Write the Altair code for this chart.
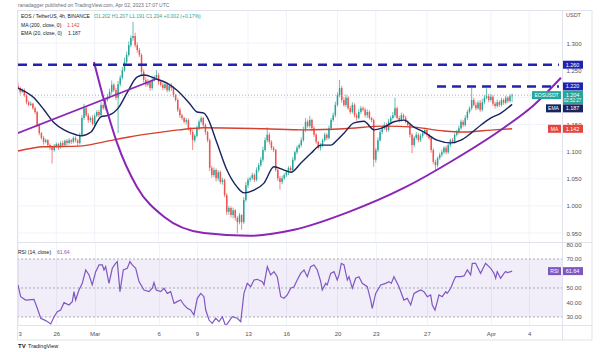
import altair as alt
import pandas as pd

# ---------------- data ----------------
# 4h candles, EOS/USDT, starting Feb 23 00:00 (t in days); prices in thousandths
close_k = [
    1217, 1210, 1213, 1204, 1191, 1186, 1188, 1180, 1173, 1149,
    1134, 1125, 1118, 1121, 1112, 1108, 1103, 1110, 1114, 1108,
    1116, 1112, 1120, 1116, 1121, 1118, 1125, 1121, 1116, 1131,
    1162, 1180, 1167, 1158, 1162, 1151, 1166, 1173, 1167, 1186,
    1180, 1195, 1201, 1210, 1223, 1213, 1199, 1224, 1236, 1250,
    1265, 1278, 1296, 1309, 1313, 1296, 1287, 1278, 1247, 1232,
    1223, 1228, 1217, 1232, 1236, 1241, 1228, 1223, 1217, 1224,
    1213, 1221, 1217, 1204, 1195, 1177, 1167, 1162, 1155, 1158,
    1143, 1136, 1121, 1129, 1143, 1155, 1162, 1149, 1136, 1121,
    1070, 1057, 1066, 1051, 1062, 1044, 1048, 1020, 989, 996,
    983, 992, 978, 970, 983, 970, 1011, 1038, 1048, 1051,
    1057, 1048, 1066, 1075, 1085, 1103, 1121, 1131, 1118, 1107,
    1103, 1066, 1051, 1044, 1051, 1057, 1062, 1070, 1066, 1085,
    1099, 1107, 1112, 1121, 1140, 1155, 1147, 1158, 1143, 1131,
    1118, 1107, 1112, 1121, 1131, 1125, 1143, 1158, 1167, 1186,
    1204, 1217, 1195, 1186, 1199, 1180, 1173, 1186, 1167, 1162,
    1173, 1180, 1177, 1167, 1173, 1162, 1158, 1085, 1103, 1121,
    1136, 1143, 1149, 1140, 1155, 1162, 1167, 1180, 1162, 1158,
    1167, 1162, 1155, 1149, 1131, 1112, 1125, 1131, 1121, 1129,
    1134, 1140, 1131, 1125, 1103, 1081, 1075, 1088, 1094, 1099,
    1107, 1099, 1112, 1121, 1118, 1131, 1136, 1143, 1155, 1149,
    1162, 1173, 1180, 1195, 1186, 1180, 1190, 1177, 1191, 1199,
    1202, 1195, 1201, 1188, 1184, 1191, 1186, 1195, 1190, 1199,
    1193, 1202, 1204,
]
first_open_k = 1221
wick_up_k = [
    6, 3, 4, 3, 2, 3, 4, 2, 3, 2,
    3, 2, 4, 3, 2, 3, 3, 4, 3, 2,
    3, 4, 2, 3, 4, 2, 3, 3, 2, 4,
    5, 8, 3, 4, 3, 5, 4, 3, 4, 5,
    3, 4, 5, 6, 8, 3, 4, 6, 5, 6,
    8, 6, 7, 5, 26, 6, 5, 4, 3, 4,
    5, 6, 3, 5, 4, 9, 4, 3, 4, 5,
    3, 4, 5, 3, 2, 3, 4, 3, 2, 4,
    3, 2, 4, 3, 5, 4, 3, 2, 3, 2,
    3, 4, 5, 3, 4, 3, 4, 2, 3, 4,
    3, 5, 2, 3, 4, 2, 5, 6, 4, 3,
    4, 3, 5, 4, 5, 6, 5, 14, 4, 3,
    3, 2, 3, 4, 5, 3, 4, 3, 4, 5,
    3, 4, 3, 5, 6, 7, 4, 8, 3, 4,
    3, 2, 4, 3, 4, 3, 5, 4, 5, 6,
    5, 15, 4, 5, 6, 3, 4, 5, 3, 4,
    5, 4, 3, 4, 5, 3, 2, 3, 4, 5,
    4, 3, 5, 4, 5, 4, 6, 19, 3, 4,
    5, 3, 4, 3, 2, 3, 4, 5, 3, 4,
    3, 4, 3, 2, 2, 3, 4, 3, 4, 5,
    3, 4, 5, 3, 4, 3, 4, 5, 4, 3,
    5, 4, 3, 22, 4, 5, 4, 5, 6, 5,
    15, 4, 5, 3, 4, 5, 3, 4, 3, 4,
    3, 4, 3,
]
wick_dn_k = [
    3, 4, 2, 3, 4, 3, 2, 3, 4, 3,
    4, 3, 5, 3, 4, 5, 25, 3, 4, 5,
    3, 4, 3, 5, 3, 4, 3, 4, 5, 3,
    3, 4, 3, 5, 4, 3, 4, 3, 4, 3,
    3, 4, 3, 4, 5, 3, 4, 65, 4, 3,
    3, 4, 3, 4, 5, 4, 5, 4, 6, 5,
    4, 3, 5, 4, 3, 4, 5, 3, 4, 3,
    4, 3, 5, 4, 3, 4, 5, 4, 3, 5,
    4, 5, 18, 4, 3, 4, 3, 4, 5, 4,
    6, 5, 4, 6, 5, 4, 5, 4, 6, 5,
    4, 6, 5, 20, 4, 14, 3, 4, 5, 4,
    3, 4, 3, 4, 3, 4, 3, 4, 5, 4,
    4, 3, 5, 14, 4, 3, 4, 5, 3, 4,
    3, 4, 3, 4, 3, 4, 3, 4, 5, 4,
    4, 3, 5, 4, 3, 4, 3, 4, 3, 4,
    3, 4, 5, 3, 4, 3, 4, 3, 4, 5,
    3, 4, 3, 4, 5, 3, 4, 13, 5, 4,
    3, 4, 3, 4, 3, 4, 3, 4, 3, 4,
    3, 4, 3, 4, 5, 15, 4, 3, 4, 3,
    4, 3, 4, 3, 5, 4, 9, 4, 3, 4,
    3, 4, 3, 4, 3, 4, 3, 4, 3, 4,
    3, 4, 3, 4, 3, 4, 3, 4, 3, 4,
    3, 4, 3, 4, 5, 3, 4, 3, 4, 3,
    4, 3, 11,
]

ema_t = [0.0, 1.25, 2.03, 2.82, 3.60, 4.54, 4.93, 5.71, 6.49, 7.12, 7.90, 8.53, 9.31,
         9.86, 10.80, 11.66, 12.44, 13.38, 14.01, 14.55, 14.79, 15.57, 16.35, 17.14,
         17.68, 18.47, 19.25, 20.03, 20.81, 21.36, 22.14, 22.93, 23.71, 24.49, 24.96,
         25.51, 26.29, 27.07, 27.86, 28.64, 29.42, 30.20, 30.99, 31.77, 32.79, 33.88,
         34.66, 35.45, 36.23, 37.01, 37.79, 38.667]
ema_v = [1.217, 1.199, 1.177, 1.153, 1.140, 1.131, 1.129, 1.136, 1.164, 1.167, 1.182,
         1.208, 1.237, 1.241, 1.234, 1.226, 1.213, 1.190, 1.173, 1.171, 1.164, 1.116,
         1.066, 1.035, 1.024, 1.029, 1.042, 1.072, 1.066, 1.062, 1.079, 1.097, 1.112,
         1.112, 1.121, 1.134, 1.153, 1.156, 1.140, 1.145, 1.155, 1.158, 1.145, 1.136,
         1.121, 1.116, 1.121, 1.134, 1.149, 1.162, 1.171, 1.187]

ma_t = [0.0, 2.03, 4.77, 6.73, 8.69, 10.64, 12.60, 14.55, 19.25, 22.38, 25.51, 28.64,
        30.99, 33.33, 34.90, 37.25, 38.667]
ma_v = [1.101, 1.109, 1.110, 1.118, 1.127, 1.134, 1.140, 1.144, 1.142, 1.140, 1.142,
        1.147, 1.145, 1.138, 1.136, 1.140, 1.142]

trend_t = [-0.08, 10.80]
trend_v = [1.1335, 1.2337]

cup_t = [5.95, 6.73, 7.75, 9.31, 11.42, 14.55, 18.08, 21.60, 25.90, 30.20, 34.12,
         38.03, 40.38, 42.49]
cup_v = [1.265, 1.195, 1.116, 1.035, 0.980, 0.950, 0.945, 0.956, 0.989, 1.033, 1.085,
         1.144, 1.186, 1.236]

level_values = [1.260, 1.220]
level_start_t = [0.0, 32.79]
level_end_t = [42.33, 42.33]

rsi_t = [0.00, 0.21, 0.60, 1.25, 1.51, 1.78, 2.17, 2.56, 2.82, 3.08,
         3.34, 3.60, 3.99, 4.25, 4.38, 4.51, 4.77, 5.03, 5.30, 5.56,
         5.81, 6.08, 6.34, 6.60, 6.73, 6.86, 7.12, 7.38, 7.64, 7.77,
         7.98, 8.24, 8.55, 8.76, 8.94, 9.21, 9.47, 9.86, 10.25, 10.51,
         10.64, 10.82, 11.17, 11.42, 11.68, 11.95, 12.21, 12.46, 12.73, 12.99,
         13.25, 13.51, 13.77, 14.03, 14.30, 14.55, 14.69, 14.95, 15.20, 15.47,
         15.73, 15.99, 16.25, 16.77, 17.16, 17.43, 17.68, 17.94, 18.21, 18.47,
         18.72, 19.12, 19.25, 19.51, 19.77, 20.03, 20.29, 20.56, 20.81, 21.07,
         21.34, 21.60, 21.85, 22.12, 22.38, 22.64, 22.90, 23.16, 23.42, 23.69,
         23.81, 24.08, 24.20, 24.47, 24.73, 24.98, 25.12, 25.30, 25.51, 25.77,
         25.90, 26.16, 26.42, 26.68, 26.94, 27.33, 27.60, 27.72, 27.99, 28.38,
         28.77, 29.03, 29.21, 29.42, 29.68, 29.81, 30.20, 30.46, 30.73, 30.99,
         31.24, 31.51, 31.77, 32.03, 32.29, 32.42, 32.63, 32.81, 32.94, 33.20,
         33.47, 33.59, 33.86, 34.12, 34.25, 34.64, 34.90, 35.16, 35.42, 35.55,
         35.81, 36.07, 36.20, 36.59, 36.99, 37.25, 37.38, 37.50, 37.77, 38.03,
         38.16, 38.29, 38.56, 38.667]
rsi_v = [52.1, 44.0, 41.7, 42.2, 36.0, 29.1, 27.5, 25.2, 30.2, 33.7,
         34.8, 39.9, 38.3, 40.6, 47.5, 41.7, 48.6, 53.2, 62.4, 59.0,
         52.1, 61.3, 65.9, 65.9, 62.4, 64.7, 53.2, 63.6, 67.0, 68.2,
         47.5, 62.4, 63.6, 68.2, 65.9, 63.6, 54.4, 48.6, 47.5, 49.8,
         53.7, 48.6, 47.5, 49.8, 46.3, 47.5, 39.4, 40.6, 41.7, 38.3,
         36.0, 34.8, 31.4, 42.9, 46.3, 44.0, 34.8, 27.9, 25.6, 29.1,
         26.8, 30.2, 23.8, 30.2, 29.1, 26.8, 46.3, 53.2, 50.9, 55.5,
         56.0, 54.4, 52.1, 64.7, 59.0, 61.3, 57.8, 44.0, 42.9, 45.2,
         49.8, 50.9, 55.5, 60.1, 62.4, 57.8, 64.7, 65.9, 62.4, 54.4,
         48.6, 53.2, 52.1, 60.1, 61.3, 55.5, 59.0, 67.0, 65.9, 55.5,
         57.8, 49.8, 56.7, 57.8, 53.2, 50.9, 41.7, 36.0, 46.3, 52.1,
         53.2, 54.4, 53.2, 57.8, 53.2, 50.9, 41.7, 42.9, 38.3, 46.3,
         47.5, 48.6, 47.5, 44.0, 45.2, 38.3, 34.8, 40.6, 45.2, 44.0,
         47.5, 46.3, 49.8, 55.5, 57.8, 57.8, 58.3, 62.4, 59.0, 67.0,
         67.0, 62.4, 60.1, 67.0, 63.6, 60.1, 56.7, 61.3, 56.7, 60.1,
         61.3, 60.6, 61.3, 61.64]

last_price = [1.204]
ema_last = [1.187]
ma_last = [1.142]
rsi_last = [61.64]
rsi_band = [30, 70]
rsi_levels = [70, 50, 30]

tick_days = [0, 3, 6, 11, 14, 18, 21, 25, 28, 32, 37, 40]
tick_labels = ["3", "26", "Mar", "6", "9", "13", "16", "20", "23", "27", "Apr", "4"]
# 1.200 and 60.00 sit hidden under the value boxes in the reference
price_ticks = [0.95, 1.00, 1.05, 1.10, 1.15, 1.25, 1.30]
price_grid = [0.95, 1.00, 1.05, 1.10, 1.15, 1.20, 1.25, 1.30]
rsi_ticks = [30, 40, 50, 70, 80]

assert len(close_k) == len(wick_up_k) == len(wick_dn_k)
assert len(ema_t) == len(ema_v) and len(rsi_t) == len(rsi_v)

# ---------------- tables ----------------
open_k = [first_open_k] + close_k[:-1]
candles = pd.DataFrame({
    "t": [i / 6 for i in range(len(close_k))],
    "open": [v / 1000 for v in open_k],
    "close": [v / 1000 for v in close_k],
    "high": [(max(o, c) + w) / 1000 for o, c, w in zip(open_k, close_k, wick_up_k)],
    "low": [(min(o, c) - w) / 1000 for o, c, w in zip(open_k, close_k, wick_dn_k)],
    "dir": ["up" if c >= o else "down" for o, c in zip(open_k, close_k)],
})
ema_df = pd.DataFrame({"t": ema_t, "v": ema_v})
ma_df = pd.DataFrame({"t": ma_t, "v": ma_v})
trend_df = pd.DataFrame({"t": trend_t, "v": trend_v})
cup_df = pd.DataFrame({"t": cup_t, "v": cup_v})
lvl_rows = []
for k, (v, a, b) in enumerate(zip(level_values, level_start_t, level_end_t)):
    lvl_rows += [{"t": a, "v": v, "g": k}, {"t": b, "v": v, "g": k}]
lvl_df = pd.DataFrame(lvl_rows)
rsi_df = pd.DataFrame({"t": rsi_t, "v": rsi_v})
ticks_df = pd.DataFrame({"t": tick_days})
pgrid_df = pd.DataFrame({"v": price_grid})

# ---------------- styling ----------------
FONT = "Liberation Sans"
TXT = "#131722"
AXC = "#50535e"
GRID = "#f0f3fa"
FRAME = "#e0e3eb"
GREEN = "#26a69a"
RED = "#ef5350"
MA_LINE = "#d6402f"
MA_BOX = "#e5453b"
EMA_C = "#17245f"
LEVEL_C = "#2222b0"
PURPLE = "#8c25b5"
RSI_C = "#7e57c2"

W, HP, HR = 545, 242, 83
xs = alt.Scale(domain=[-0.078, 42.57], nice=False, zero=False)
ys = alt.Scale(domain=[0.9335, 1.3792], nice=False, zero=False)
rs = alt.Scale(domain=[24.48, 81.72], nice=False, zero=False)

price_axis = alt.Axis(orient="right", values=price_ticks, format=".3f", title=None,
                      ticks=False, tickSize=0, domain=False, grid=False, zindex=0,
                      labelFontSize=6, labelFont=FONT, labelColor=AXC, labelPadding=4,
                      labelOverlap=False)
rsi_axis = alt.Axis(orient="right", values=rsi_ticks, format=".2f", title=None,
                    ticks=False, tickSize=0, domain=False, grid=False, zindex=0,
                    labelFontSize=6, labelFont=FONT, labelColor=AXC, labelPadding=4,
                    labelOverlap=False)
label_expr = "".join(f"datum.value == {d} ? '{s}' : " for d, s in zip(tick_days, tick_labels)) + "''"
x_axis = alt.Axis(values=tick_days, labelExpr=label_expr, title=None, ticks=False, tickSize=0,
                  domain=False, grid=True, gridColor=GRID, labelFontSize=6, labelFont=FONT,
                  labelColor=AXC, labelPadding=5, labelOverlap=False, labelFlush=False,
                  zindex=0,
                  labelAlign={"condition": {"test": "datum.value == 0", "value": "left"},
                              "value": "center"})


def PX(f):
    return alt.X(f, type="quantitative", scale=xs, axis=None)


def PY(f):
    return alt.Y(f, type="quantitative", scale=ys, axis=price_axis)


def RX(f):
    return alt.X(f, type="quantitative", scale=xs, axis=x_axis)


def RY(f):
    return alt.Y(f, type="quantitative", scale=rs, axis=rsi_axis)


one = pd.DataFrame({"a": [0]})


def rule(x, y, x2=None, y2=None, color=FRAME, w=1):
    enc = {"x": alt.value(x), "y": alt.value(y)}
    if x2 is not None:
        enc["x2"] = alt.value(x2)
    if y2 is not None:
        enc["y2"] = alt.value(y2)
    return alt.Chart(one).mark_rule(color=color, strokeWidth=w).encode(**enc)


def label(x, y, text, color=TXT, size=5, weight="normal", align="left"):
    return alt.Chart(one).mark_text(align=align, baseline="middle", font=FONT, fontSize=size,
                                    color=color, fontWeight=weight).encode(
        x=alt.value(x), y=alt.value(y), text=alt.value(text))


def vbox(vals, Yf, x0, x1, color, top=-4, bot=4):
    return alt.Chart(pd.DataFrame({"v": vals})).mark_rect(
        color=color, yOffset=top, y2Offset=bot).encode(
        x=alt.value(x0), x2=alt.value(x1), y=Yf("v"), y2=alt.Y2("v"))


def vtext(vals, Yf, xc, text=None, fmt=None, dy=0, size=5.5, color="white"):
    t = alt.value(text) if text is not None else alt.Text("v:Q", format=fmt)
    return alt.Chart(pd.DataFrame({"v": vals})).mark_text(
        align="center", baseline="middle", dy=dy, font=FONT, fontSize=size, color=color).encode(
        x=alt.value(xc), y=Yf("v"), text=t)


cscale = alt.Scale(domain=["up", "down"], range=[GREEN, RED])

# ---------------- price panel ----------------
p_layers = [
    alt.Chart(pgrid_df).mark_rule(color=GRID, strokeWidth=1).encode(
        y=PY("v"), x=alt.value(0), x2=alt.value(W)),
    alt.Chart(ticks_df).mark_rule(color=GRID, strokeWidth=1).encode(
        x=PX("t"), y=alt.value(10), y2=alt.value(HP)),
    alt.Chart(candles).mark_rule(strokeWidth=0.7).encode(
        x=PX("t"), y=PY("low"), y2=alt.Y2("high"),
        color=alt.Color("dir:N", scale=cscale, legend=None)),
    alt.Chart(candles).mark_rule(strokeWidth=1.5, strokeCap="butt").encode(
        x=PX("t"), y=PY("open"), y2=alt.Y2("close"),
        color=alt.Color("dir:N", scale=cscale, legend=None)),
    alt.Chart(pd.DataFrame({"v": last_price})).mark_rule(
        color="#9598a1", strokeDash=[1, 2], strokeWidth=0.8).encode(
        y=PY("v"), x=alt.value(0), x2=alt.value(W)),
    alt.Chart(ma_df).mark_line(color=MA_LINE, strokeWidth=1.4, interpolate="monotone").encode(
        x=PX("t"), y=PY("v")),
    alt.Chart(ema_df).mark_line(color=EMA_C, strokeWidth=1.4, interpolate="monotone").encode(
        x=PX("t"), y=PY("v")),
    alt.Chart(trend_df).mark_line(color=PURPLE, strokeWidth=1.8, clip=True).encode(
        x=PX("t"), y=PY("v")),
    alt.Chart(cup_df).mark_line(color=PURPLE, strokeWidth=2, interpolate="monotone", clip=True).encode(
        x=PX("t"), y=PY("v")),
    alt.Chart(lvl_df).mark_line(color=LEVEL_C, strokeWidth=2.4, strokeDash=[9, 6]).encode(
        x=PX("t"), y=PY("v"), detail="g:N"),
    # axis value boxes
    vbox(level_values[:1], PY, 545, 566, LEVEL_C),
    vtext(level_values[:1], PY, 555.5, fmt=".3f"),
    vbox(level_values[1:], PY, 545, 566, LEVEL_C),
    vtext(level_values[1:], PY, 555.5, fmt=".3f"),
    vbox(last_price, PY, 515, 544, GREEN),
    vtext(last_price, PY, 529.5, text="EOSUSDT", size=5),
    vbox(last_price, PY, 545, 566, GREEN, top=-4.5, bot=9),
    vtext(last_price, PY, 555.5, fmt=".3f"),
    vtext(last_price, PY, 555.5, text="02:52:27", dy=6, size=4.5),
    vbox(ema_last, PY, 529, 544, EMA_C, top=0, bot=8),
    vtext(ema_last, PY, 536.5, text="EMA", dy=4, size=5),
    vbox(ema_last, PY, 545, 566, EMA_C, top=0, bot=8),
    vtext(ema_last, PY, 555.5, fmt=".3f", dy=4),
    vbox(ma_last, PY, 531, 544, MA_BOX),
    vtext(ma_last, PY, 537.5, text="MA", size=5),
    vbox(ma_last, PY, 545, 566, MA_BOX),
    vtext(ma_last, PY, 555.5, fmt=".3f"),
    # header texts
    label(1, 4.5, "ranadagger published on TradingView.com, Apr 02, 2023 17:07 UTC", color="#6a6d78"),
    label(4, 15.5, "EOS / TetherUS, 4h, BINANCE"),
    label(77, 15.5, "O1.202  H1.207  L1.191  C1.204  +0.002 (+0.17%)", color=GREEN),
    label(4, 24.5, "MA (200, close, 0)"),
    label(50, 24.5, "1.142", color=MA_BOX),
    label(4, 33, "EMA (20, close, 0)"),
    label(51, 33, "1.187", color=EMA_C),
    label(549, 15, "USDT", color=AXC, size=5.5),
    # frame
    rule(0, 10.5, x2=575),
    rule(0.5, 10, y2=HP),
    rule(545.5, 10, y2=HP),
    rule(575, 10, y2=HP),
]
price = alt.layer(*p_layers).properties(width=W, height=HP)

# ---------------- RSI panel ----------------
r_layers = [
    alt.Chart(pd.DataFrame({"lo": [rsi_band[0]], "hi": [rsi_band[1]]})).mark_rect(
        color=RSI_C, opacity=0.1).encode(
        x=alt.value(0), x2=alt.value(W), y=RY("hi"), y2=alt.Y2("lo")),
    alt.Chart(pd.DataFrame({"v": rsi_levels})).mark_rule(
        color="#9598a1", strokeDash=[2, 2], strokeWidth=0.8).encode(
        y=RY("v"), x=alt.value(0), x2=alt.value(W)),
    alt.Chart(rsi_df).mark_line(color=RSI_C, strokeWidth=1.2, clip=True).encode(
        x=RX("t"), y=RY("v")),
    vbox(rsi_last, RY, 531, 544, RSI_C),
    vtext(rsi_last, RY, 537.5, text="RSI", size=5),
    vbox(rsi_last, RY, 545, 566, RSI_C),
    vtext(rsi_last, RY, 555.5, fmt=".2f"),
    label(1, 10, "RSI (14, close)"),
    label(40, 10, "61.64", color=RSI_C),
    rule(0, 0.5, x2=575),
    rule(0, 83.5, x2=575),
    rule(0, 98, x2=575),
    rule(0.5, 0, y2=98),
    rule(545.5, 0, y2=98),
    rule(575, 0, y2=98),
    label(1, 104, "TV", size=6, weight="bold"),
    label(11, 104, "TradingView", size=5.5),
]
rsi = alt.layer(*r_layers).properties(width=W, height=HR)

chart = alt.vconcat(price, rsi, spacing=0, bounds="flush").properties(
    padding={"left": 13, "top": 0, "right": 0, "bottom": 0},
    background="white",
).configure_view(stroke=None)

chart.save("out.html", embed_options={"renderer": "svg", "actions": False})
